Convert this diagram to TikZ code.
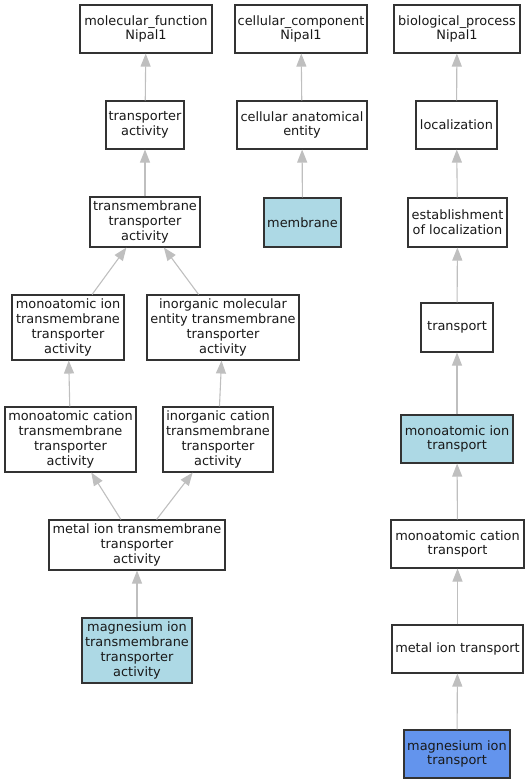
\documentclass[tikz,border=0pt]{standalone}
\usepackage{fontspec}
\setmainfont{DejaVu Sans}
\usetikzlibrary{arrows.meta}
\definecolor{cL}{rgb}{0.68, 0.85, 0.90}
\definecolor{cC}{rgb}{0.39, 0.58, 0.93}
\definecolor{cE}{rgb}{0.75, 0.75, 0.75}
\tikzset{mybox/.style={
  shape=rectangle,
  draw=black!80,
  fill=white,
  line width=1.1bp,
  align=center,
  inner xsep=1bp,
  inner ysep=0pt,
  font=\fontsize{12.9bp}{14.8bp}\selectfont,
  text = black!90,
  }
}
\tikzset{myboxL/.style={
  mybox,
  fill=cL,
  }
}
\tikzset{myboxC/.style={
  mybox,
  fill=cC,
  }
}
\tikzset{myedge/.style={
  draw=cE,
  line width=1.1bp,
  -{Triangle[length=13bp,width=10bp]},
  }
}

\begin{document}
\begin{tikzpicture}[x=1bp,y=-1bp]
  \useasboundingbox (0,0) rectangle (529,784);
  % molecular function
  \node [mybox, minimum width=132bp, minimum height=48bp] (mf) at (146,29) {molecular\_function\\Nipal1};
  \node [mybox, minimum width=78bp, minimum height=48bp] (tpa) at (145,125) {transporter\\activity};
  \node [mybox, minimum width=110bp, minimum height=50bp] (tmtpa) at (145,222) {transmembrane\\transporter\\activity};
  \node [mybox, minimum width=112bp, minimum height=65bp] (mitpa) at (68,327.5) {monoatomic ion\\transmembrane\\transporter\\activity};
  \node [mybox, minimum width=152bp, minimum height=65bp] (imetpa) at (223,327.5) {inorganic molecular\\entity transmembrane\\transporter\\activity};
  \node [mybox, minimum width=131bp, minimum height=65bp] (mctpa) at (70.5,439.5) {monoatomic cation\\transmembrane\\transporter\\activity};
  \node [mybox, minimum width=110bp, minimum height=65bp] (ictpa) at (218,439.5) {inorganic cation\\transmembrane\\transporter\\activity};
  \node [mybox, minimum width=176bp, minimum height=50bp] (metpa) at (137,545) {metal ion transmembrane\\transporter\\activity};
  \node [myboxL, minimum width=110bp, minimum height=65bp] (mgtpa) at (137,650.5) {magnesium ion\\transmembrane\\transporter\\activity};
  % cellular component
  \node [mybox, minimum width=132bp, minimum height=48bp] (cc) at (301,29) {cellular\_component\\Nipal1};
  \node [mybox, minimum width=130bp, minimum height=48bp] (cae) at (302,125) {cellular anatomical\\entity};
  \node [myboxL, minimum width=77bp, minimum height=49bp] (mem) at (302.5,222.5) {membrane};
  % biological process
  \node [mybox, minimum width=126bp, minimum height=48bp] (bp) at (457,29) {biological\_process\\Nipal1};
  \node [mybox, minimum width=81bp, minimum height=48bp] (loc) at (456.5,125) {localization};
  \node [mybox, minimum width=99bp, minimum height=49bp] (eol) at (457.5,222.5) {establishment\\of localization};
  \node [mybox, minimum width=72bp, minimum height=49bp] (trn) at (457,327.5) {transport};
  \node [myboxL, minimum width=112bp, minimum height=48bp] (mit) at (457,439) {monoatomic ion\\transport};
  \node [mybox, minimum width=133bp, minimum height=48bp] (mct) at (457.5,544) {monoatomic cation\\transport};
  \node [mybox, minimum width=131bp, minimum height=48bp] (mlt) at (457.5,649) {metal ion transport};
  \node [myboxC, minimum width=106bp, minimum height=48bp] (mgt) at (457,754) {magnesium ion\\transport};

  \draw [myedge] (tpa) -- (mf);
  \draw [myedge] (tmtpa) -- (tpa);
  \draw [myedge] (mitpa) -- (tmtpa);
  \draw [myedge] (imetpa) -- (tmtpa);
  \draw [myedge] (mctpa) -- (mitpa);
  \draw [myedge] (ictpa) -- (imetpa);
  \draw [myedge] (metpa) -- (mctpa);
  \draw [myedge] (metpa) -- (ictpa);
  \draw [myedge] (mgtpa) -- (metpa);
  \draw [myedge] (cae) -- (cc);
  \draw [myedge] (mem) -- (cae);
  \draw [myedge] (loc) -- (bp);
  \draw [myedge] (eol) -- (loc);
  \draw [myedge] (trn) -- (eol);
  \draw [myedge] (mit) -- (trn);
  \draw [myedge] (mct) -- (mit);
  \draw [myedge] (mlt) -- (mct);
  \draw [myedge] (mgt) -- (mlt);
\end{tikzpicture}
\end{document}
